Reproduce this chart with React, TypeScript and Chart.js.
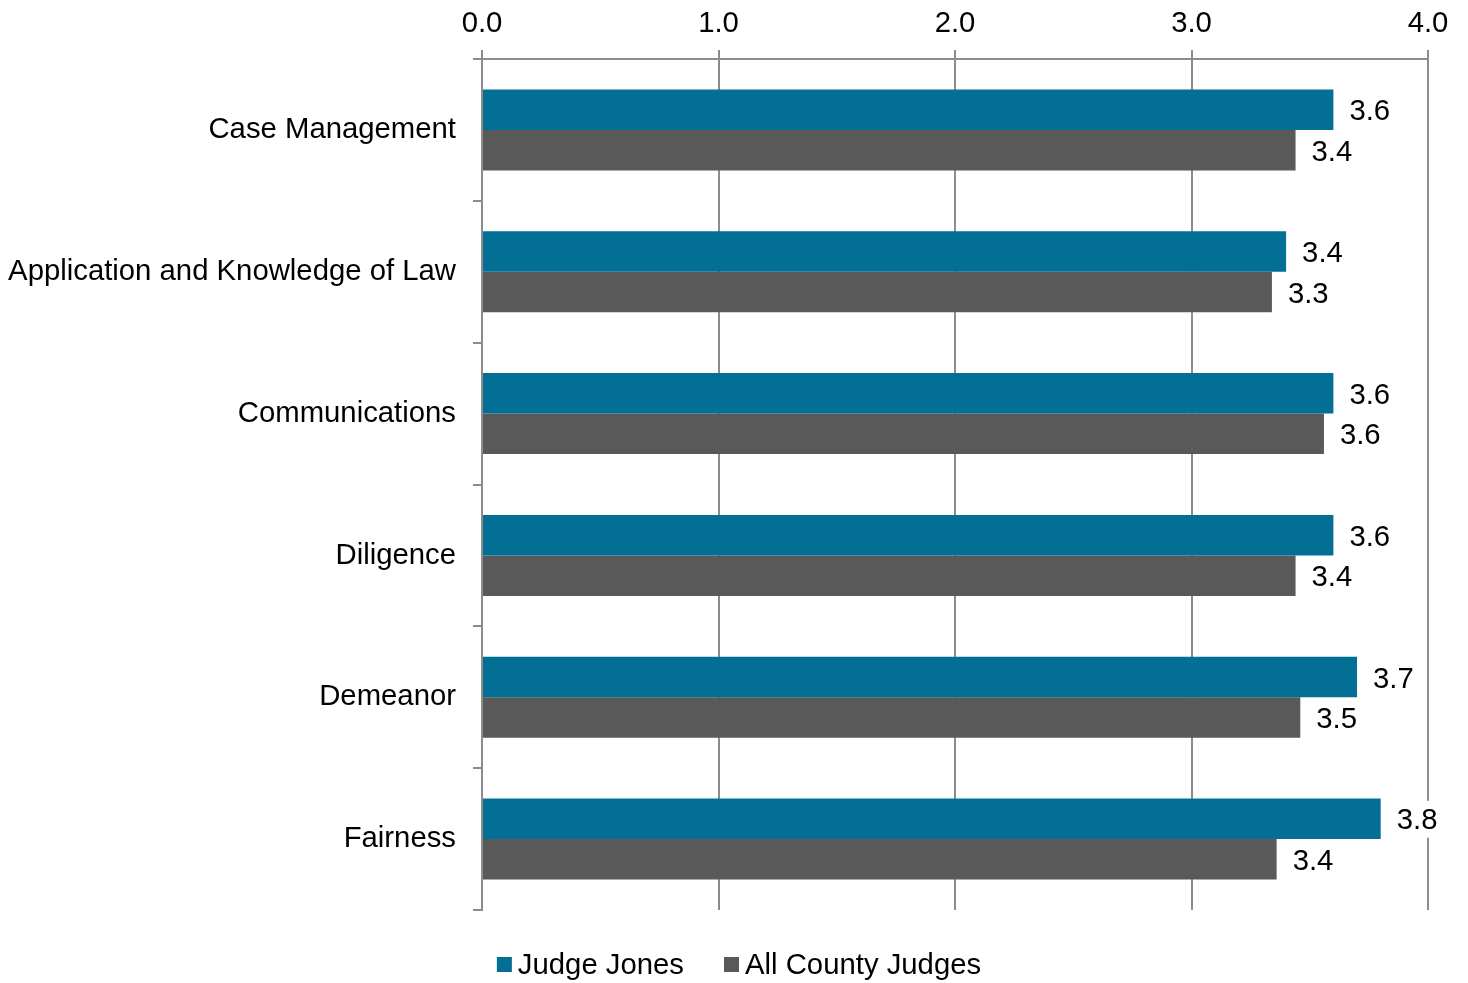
import React, { useEffect, useRef } from "react";
import { Chart, registerables } from "chart.js";

Chart.register(...registerables);

const categories = [
  "Case Management",
  "Application and Knowledge of Law",
  "Communications",
  "Diligence",
  "Demeanor",
  "Fairness",
];
const judgeJones = [3.6, 3.4, 3.6, 3.6, 3.7, 3.8];
const allCountyJudges = [3.44, 3.34, 3.56, 3.44, 3.46, 3.36];
const seriesNames = ["Judge Jones", "All County Judges"];
const seriesColors = ["#036F95", "#595959"];
const axisMin = 0;
const axisMax = 4;
const axisStep = 1;

const FONT = '"Liberation Sans", Arial, sans-serif';
const FONT_SIZE = 29.3;
const GRID = "#8c8c8c";

const valueLabels = {
  id: "valueLabels",
  afterDatasetsDraw(chart: any) {
    const ctx = chart.ctx;
    ctx.save();
    ctx.font = `${FONT_SIZE}px ${FONT}`;
    ctx.textBaseline = "middle";
    ctx.textAlign = "left";
    chart.data.datasets.forEach((ds: any, i: number) => {
      const meta = chart.getDatasetMeta(i);
      meta.data.forEach((el: any, j: number) => {
        const v = ds.data[j] as number;
        const text = v.toFixed(1);
        const x = el.x + 16;
        const y = el.y;
        const w = ctx.measureText(text).width;
        ctx.fillStyle = "#ffffff";
        ctx.fillRect(x - 5, y - 18, w + 10, 37);
        ctx.fillStyle = "#000000";
        ctx.fillText(text, x, y + 2.5);
      });
    });
    ctx.restore();
  },
};

const bottomLegend = {
  id: "bottomLegend",
  afterDraw(chart: any) {
    const ctx = chart.ctx;
    ctx.save();
    ctx.font = `${FONT_SIZE}px ${FONT}`;
    const box = 15;
    const gap = 6;
    const itemGap = 40;
    const items = chart.data.datasets.map((ds: any) => ({
      text: ds.label as string,
      color: ds.backgroundColor as string,
      w: ctx.measureText(ds.label).width,
    }));
    const total =
      items.reduce((s: number, it: any) => s + box + gap + it.w, 0) +
      itemGap * (items.length - 1);
    let x = (chart.width - total) / 2 + 5;
    const cy = chart.height - 18.5;
    ctx.textBaseline = "middle";
    ctx.textAlign = "left";
    items.forEach((it: any) => {
      ctx.fillStyle = it.color;
      ctx.fillRect(x, cy - box / 2, box, box);
      ctx.fillStyle = "#000000";
      ctx.fillText(it.text, x + box + gap, cy + 1);
      x += box + gap + it.w + itemGap;
    });
    ctx.restore();
  },
};

export default function App() {
  const canvasRef = useRef<HTMLCanvasElement | null>(null);

  useEffect(() => {
    if (!canvasRef.current) return;
    const chart = new Chart(canvasRef.current, {
      type: "bar",
      data: {
        labels: categories,
        datasets: [
          {
            label: seriesNames[0],
            data: judgeJones,
            backgroundColor: seriesColors[0],
            borderWidth: 0,
            barPercentage: 1,
            categoryPercentage: 0.571,
          },
          {
            label: seriesNames[1],
            data: allCountyJudges,
            backgroundColor: seriesColors[1],
            borderWidth: 0,
            barPercentage: 1,
            categoryPercentage: 0.571,
          },
        ],
      },
      options: {
        indexAxis: "y",
        responsive: false,
        animation: false,
        layout: { padding: { top: 0, left: 0, right: 40, bottom: 73 } },
        plugins: {
          legend: { display: false },
          tooltip: { enabled: false },
        },
        scales: {
          x: {
            type: "linear",
            position: "top",
            min: axisMin,
            max: axisMax,
            ticks: {
              stepSize: axisStep,
              callback: (v: any) => Number(v).toFixed(1),
              font: { family: FONT, size: FONT_SIZE },
              color: "#000000",
              padding: 9,
            },
            grid: {
              color: GRID,
              lineWidth: 2,
              tickLength: 9,
              drawTicks: true,
              drawOnChartArea: true,
            },
            border: { display: true, color: GRID, width: 2 },
            afterFit: (s: any) => {
              s.height = 59;
            },
          },
          y: {
            type: "category",
            ticks: {
              font: { family: FONT, size: FONT_SIZE },
              color: "#000000",
              padding: 17,
            },
            grid: {
              display: true,
              offset: true,
              drawOnChartArea: false,
              drawTicks: true,
              tickLength: 9,
              color: GRID,
              lineWidth: 2,
            },
            border: { display: true, color: GRID, width: 2 },
            afterFit: (s: any) => {
              s.width = 482;
            },
          },
        },
      } as any,
      plugins: [valueLabels, bottomLegend],
    });
    return () => chart.destroy();
  }, []);

  return (
    <div style={{ position: "absolute", left: 0, top: 0, width: 1468, height: 983, background: "#ffffff" }}>
      <canvas ref={canvasRef} width={1468} height={983} />
    </div>
  );
}
